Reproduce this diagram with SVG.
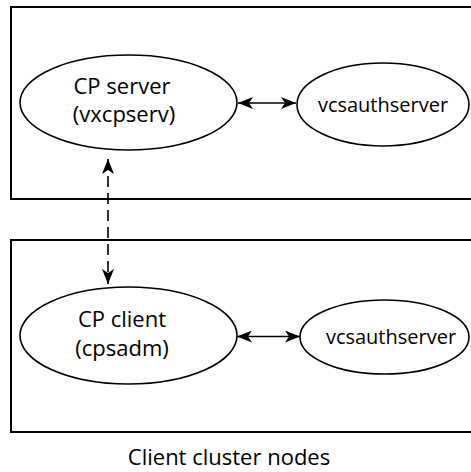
<svg xmlns="http://www.w3.org/2000/svg" width="471" height="472" viewBox="0 0 471 472">
<defs>
<style>
.box{fill:none;stroke:#000;stroke-width:2}
.node{fill:#fff;stroke:#000;stroke-width:1.6}
.t{font-family:"Open Sans","Noto Sans",sans-serif;font-size:22px;fill:#000;text-anchor:middle}
.s{font-size:20px}
.conn{stroke:#000;stroke-width:1.6;fill:none}
.dash{stroke-dasharray:11 6}
</style>
<marker id="ah" viewBox="0 0 15 12" refX="15" refY="6" markerWidth="15" markerHeight="12" markerUnits="userSpaceOnUse" orient="auto-start-reverse">
<path d="M0,0 L15,6 L0,12 L4,6 Z" fill="#000"/>
</marker>
</defs>
<rect width="471" height="472" fill="#fff"/>
<g id="server-cluster"><rect class="box" x="11" y="7" width="470" height="192"/></g>
<g id="client-cluster"><rect class="box" x="11" y="240" width="470" height="192"/></g>
<g id="connectors">
<line class="conn" x1="238" y1="103" x2="296" y2="103" marker-start="url(#ah)" marker-end="url(#ah)"/>
<line class="conn" x1="237" y1="336.5" x2="300" y2="336.5" marker-start="url(#ah)" marker-end="url(#ah)"/>
<line class="conn dash" x1="108" y1="159" x2="108" y2="284" marker-start="url(#ah)" marker-end="url(#ah)"/>
</g>
<g id="cp-server">
<ellipse class="node" cx="128.5" cy="102.5" rx="108.5" ry="47.5"/>
<text class="t" x="122" y="94">CP server</text>
<text class="t" x="124" y="122">(vxcpserv)</text>
</g>
<g id="vcsauthserver-1">
<ellipse class="node" cx="383" cy="104.5" rx="86" ry="41.5"/>
<text class="t s" x="383" y="112">vcsauthserver</text>
</g>
<g id="cp-client">
<ellipse class="node" cx="128.5" cy="335.5" rx="108.5" ry="48.5"/>
<text class="t" x="122" y="327">CP client</text>
<text class="t" x="122" y="356">(cpsadm)</text>
</g>
<g id="vcsauthserver-2">
<ellipse class="node" cx="384.5" cy="337" rx="84.5" ry="37"/>
<text class="t s" x="391" y="344">vcsauthserver</text>
</g>
<g id="caption">
<text class="t" x="229" y="465">Client cluster nodes</text>
</g>
</svg>
